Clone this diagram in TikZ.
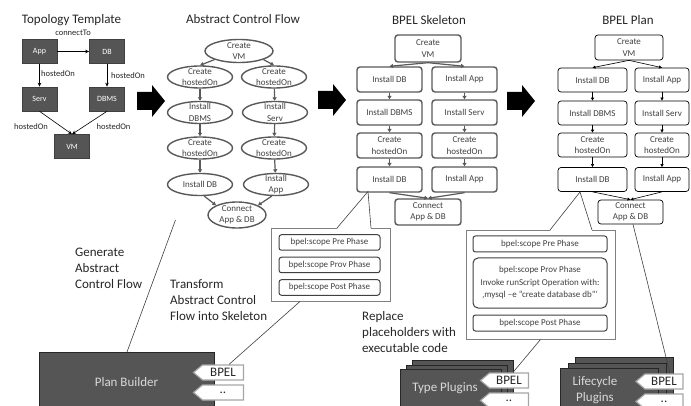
\documentclass[tikz,border=0pt]{standalone}
\usepackage{fontspec}
\setmainfont{Carlito}
\usetikzlibrary{arrows.meta,shapes.geometric,shapes.symbols}
\definecolor{ink}{HTML}{262626}
\definecolor{txt}{HTML}{404040}
\definecolor{edge}{HTML}{595959}
\definecolor{darkbox}{HTML}{555555}
\definecolor{tagline}{HTML}{A6A6A6}
\definecolor{lighttxt}{HTML}{D9D9D9}
\begin{document}
\begin{tikzpicture}[x=1pt,y=-1pt,
  title/.style={font=\fontsize{13}{16}\selectfont, text=ink, inner sep=0},
  bigtxt/.style={font=\fontsize{13}{16}\selectfont, text=ink, inner sep=0, align=left, anchor=north west},
  topo/.style={rectangle, fill=darkbox, draw=black!75, line width=0.6, minimum width=35, minimum height=24,
    inner sep=0, text=white, font=\fontsize{8}{10}\selectfont},
  tlab/.style={font=\fontsize{8.5}{10}\selectfont, text=ink, inner sep=0},
  tarrow/.style={-{Stealth[length=4pt,width=3.5pt]}, line width=0.6, black},
  acflab/.style={font=\fontsize{9}{11.5}\selectfont, text=txt, align=center, inner sep=0},
  acf/.style={ellipse, draw=edge, line width=1.4, minimum width=65, minimum height=22, inner sep=0,
    label={[acflab]center:#1}},
  flowarrow/.style={-{Triangle[length=3.5pt,width=4pt]}, draw=edge, line width=1.2},
  skel/.style={rectangle, rounded corners=3, draw=edge, line width=1.4, minimum width=65, minimum height=25,
    inner sep=0, font=\fontsize{9}{11.5}\selectfont, text=txt, align=center},
  plan/.style={rectangle, rounded corners=3, draw=black, line width=0.7, minimum width=69, minimum height=24,
    inner sep=0, font=\fontsize{9}{11.5}\selectfont, text=txt, align=center},
  pright/.style={minimum width=54},
  planarrow/.style={-{Triangle[length=3pt,width=3pt]}, line width=0.6, black},
  callout/.style={rectangle, draw=black!50, line width=0.9, fill=white, inner sep=0},
  pointer/.style={draw=txt, line width=0.6},
  scopebox/.style={rectangle, rounded corners=2.5, draw=txt, line width=1, minimum height=15.5,
    inner sep=0, font=\fontsize{9}{12.5}\selectfont, text=txt, align=center},
  darkblock/.style={rectangle, fill=darkbox, draw=black!85, line width=0.7, inner sep=0, anchor=north west},
  blocktxt/.style={font=\fontsize{13}{16}\selectfont, text=lighttxt, inner sep=0, align=center},
  tag/.style={signal, signal to=west, signal from=nowhere, signal pointer angle=80, fill=white, draw=tagline,
    line width=1.2, minimum width=50, minimum height=15, inner sep=0, font=\fontsize{13}{15}\selectfont, text=ink},
  fatarrow/.pic={\fill[black] (0,-9) -- (15,-9) -- (15,-16) -- (28,0) -- (15,16) -- (15,9) -- (0,9) -- cycle;}
]
\clip (0,0) rectangle (691,406);
\fill[white] (0,0) rectangle (691,406);

% ---------- titles ----------
\node[title] (ttopo) at (71.5,20.5) {Topology Template};
\node[title] (tacf) at (243,19.5) {Abstract Control Flow};
\node[title] (tskel) at (429,20.5) {BPEL Skeleton};
\node[title] (tplan) at (628,20.5) {BPEL Plan};

% ---------- topology template ----------
\node[topo] (app) at (39.5,51.5) {App};
\node[topo] (db) at (107,51.5) {DB};
\node[topo] (serv) at (39.5,99) {Serv};
\node[topo] (dbms) at (107,99) {DBMS};
\node[topo] (vm) at (72,146.5) {VM};
\draw[tarrow] (app) -- (db);
\draw[tarrow] (app) -- (serv);
\draw[tarrow] (db) -- (dbms);
\draw[tarrow] (serv.south) -- (vm.north);
\draw[tarrow] (dbms.south) -- (vm.north);
\node[tlab] (lconn) at (73,33) {connectTo};
\node[tlab, anchor=west] (lh1) at (41,73.5) {hostedOn};
\node[tlab, anchor=west] (lh2) at (111,76) {hostedOn};
\node[tlab] (lh3) at (31,126.5) {hostedOn};
\node[tlab] (lh4) at (113.5,126.5) {hostedOn};

% ---------- transformation arrows ----------
\pic at (137,101) {fatarrow};
\pic at (318,100) {fatarrow};
\pic at (507,101) {fatarrow};

% ---------- abstract control flow ----------
\node[acf={Create\\VM}, minimum width=68, minimum height=23] (cvm) at (239,51) {};
\node[acf={Create\\hostedOn}] (l1) at (200,77) {};
\node[acf={Create\\hostedOn}] (r1) at (274,77) {};
\node[acf={Install\\DBMS}] (l2) at (200,112.5) {};
\node[acf={Install\\Serv}] (r2) at (275,112.5) {};
\node[acf={Create\\hostedOn}] (l3) at (200,148) {};
\node[acf={Create\\hostedOn}] (r3) at (274,148) {};
\node[acf={Install DB}] (l4) at (200,184.5) {};
\node[acf={Install\\App}] (r4) at (276,184.5) {};
\node[acf={Connect\\App \& DB}, minimum width=58, minimum height=26] (conn) at (237,215) {};
\draw[flowarrow] (cvm.south west) -- (l1.north);
\draw[flowarrow] (cvm.south east) -- (r1.north);
\draw[flowarrow] (l1) -- (l2);
\draw[flowarrow] (l2) -- (l3);
\draw[flowarrow] (l3) -- (l4);
\draw[flowarrow] (r1) -- (r2);
\draw[flowarrow] (r2) -- (r3);
\draw[flowarrow] (r3) -- (r4);
\draw[flowarrow] (l4.-70) -- (conn.north west);
\draw[flowarrow] (r4.-110) -- (conn.north east);

% ---------- BPEL skeleton ----------
\node[skel, minimum width=66, minimum height=27] (scvm) at (428,48.5) {Create\\VM};
\node[skel] (sl1) at (389.5,79.5) {Install DB};
\node[skel] (sr1) at (464.5,79.5) {Install App};
\node[skel] (sl2) at (389.5,112.5) {Install DBMS};
\node[skel] (sr2) at (464.5,112.5) {Install Serv};
\node[skel] (sl3) at (389.5,145.5) {Create\\hostedOn};
\node[skel] (sr3) at (464.5,145.5) {Create\\hostedOn};
\node[skel] (sl4) at (389.5,179.5) {Install DB};
\node[skel] (sr4) at (464.5,179.5) {Install App};
\node[skel, minimum width=66, minimum height=26] (sconn) at (428,212) {Connect\\App \& DB};
\draw[flowarrow] (scvm.south) -- (sl1.north);
\draw[flowarrow] (scvm.south) -- (sr1.north);
\draw[flowarrow] (sl1) -- (sl2);
\draw[flowarrow] (sl2) -- (sl3);
\draw[flowarrow] (sl3) -- (sl4);
\draw[flowarrow] (sr1) -- (sr2);
\draw[flowarrow] (sr2) -- (sr3);
\draw[flowarrow] (sr3) -- (sr4);
\draw[flowarrow] (sl4.south) -- (sconn.north);
\draw[flowarrow] (sr4.south) -- (sconn.north);

% ---------- BPEL plan ----------
\node[plan, minimum width=68, minimum height=25] (pcvm) at (629,47.5) {Create\\VM};
\node[plan] (pl1) at (592.5,80) {Install DB};
\node[plan, pright] (pr1) at (662,80) {Install App};
\node[plan] (pl2) at (592.5,113) {Install DBMS};
\node[plan, pright] (pr2) at (662,113) {Install Serv};
\node[plan] (pl3) at (592.5,145) {Create\\hostedOn};
\node[plan, pright] (pr3) at (662,145) {Create\\hostedOn};
\node[plan] (pl4) at (592.5,179.5) {Install DB};
\node[plan, pright] (pr4) at (662,179.5) {Install App};
\node[plan, minimum width=65, minimum height=24] (pconn) at (630.5,212) {Connect\\App \& DB};
\draw[planarrow] (pcvm.south) -- (pl1.north);
\draw[planarrow] (pcvm.south) -- (pr1.north);
\draw[planarrow] (pl1) -- (pl2);
\draw[planarrow] (pl2) -- (pl3);
\draw[planarrow] (pl3) -- (pl4);
\draw[planarrow] (pr1) -- (pr2);
\draw[planarrow] (pr2) -- (pr3);
\draw[planarrow] (pr3) -- (pr4);
\draw[planarrow] (pl4.south) -- (pconn.north);
\draw[planarrow] (pr4.south) -- (pconn.north);

% ---------- skeleton callout ----------
\node[callout, minimum width=119, minimum height=73] (cs) at (330.5,264.5) {};
\coordinate (csb1) at (337,228);
\coordinate (csb2) at (371,228);
\coordinate (cspin) at (368,191.5);
\fill[white] ([yshift=-1]csb1) -- (cspin) -- ([yshift=-1]csb2) -- cycle;
\draw[pointer] (csb1) -- (cspin) -- (csb2);
\node[scopebox, minimum width=101] (spre) at (329.5,242.5) {bpel:scope Pre Phase};
\node[scopebox, minimum width=101] (sprov) at (329.5,265) {bpel:scope Prov Phase};
\node[scopebox, minimum width=101] (spost) at (329.5,287.5) {bpel:scope Post Phase};

% ---------- plan callout ----------
\node[callout, minimum width=149, minimum height=109] (cp) at (540.5,284.5) {};
\coordinate (cpb1) at (550,230);
\coordinate (cpb2) at (592,230);
\coordinate (cppin) at (580,192);
\fill[white] ([yshift=-1]cpb1) -- (cppin) -- ([yshift=-1]cpb2) -- cycle;
\draw[pointer] (cpb1) -- (cppin) -- (cpb2);
\node[scopebox, minimum width=134, minimum height=16] (ppre) at (540,244) {bpel:scope Pre Phase};
\node[scopebox, minimum width=134, minimum height=50, rounded corners=5] (pprov) at (540,283)
  {bpel:scope Prov Phase\\Invoke runScript Operation with:\\‚mysql –e “create database db”‘};
\node[scopebox, minimum width=134, minimum height=16] (ppost) at (540,323) {bpel:scope Post Phase};

% ---------- explanatory texts ----------
\node[bigtxt] (gen) at (75,247.5) {Generate\\Abstract\\Control Flow};
\node[bigtxt] (trans) at (170,279) {Transform\\Abstract Control\\Flow into Skeleton};
\node[bigtxt] (repl) at (362,311) {Replace\\placeholders with\\executable code};

% ---------- plan builder ----------
\node[darkblock, minimum width=175, minimum height=60] (pb) at (39,352) {};
\node[blocktxt] (pbt) at (126.5,382) {Plan Builder};

% ---------- type plugins ----------
\node[darkblock, minimum width=101, minimum height=70] (tp3) at (412,360) {};
\node[darkblock, minimum width=101, minimum height=70] (tp2) at (406,364.5) {};
\node[darkblock, minimum width=101, minimum height=70] (tp1) at (400,369) {};
\node[blocktxt] (tpt) at (445,388) {Type Plugins};

% ---------- lifecycle plugins ----------
\node[darkblock, minimum width=98, minimum height=70] (lp3) at (575,357) {};
\node[darkblock, minimum width=98, minimum height=70] (lp2) at (567.5,362.5) {};
\node[darkblock, minimum width=98, minimum height=70] (lp1) at (560,368) {};
\node[blocktxt] (lpt) at (595,390) {Lifecycle\\Plugins};

% ---------- language tags ----------
\node[tag] (pbbpel) at (223,372.5) {BPEL};
\node[tag] (pbmore) at (223,392.5) {..};
\node[tag, minimum width=48] (tpbpel) at (509,380.5) {BPEL};
\node[tag, minimum width=48] (tpmore) at (509,400.5) {..};
\node[tag, minimum width=47] (lpbpel) at (664,381.5) {BPEL};
\node[tag, minimum width=47] (lpmore) at (664,401.5) {..};

% ---------- pointers between the stages ----------
\coordinate (acfpin) at (175.5,220);
\draw[pointer] (acfpin) -- (pb.north -| 127,0);
\draw[pointer] ([xshift=-30.5]cs.south) -- ([xshift=6]pbbpel.north);
\draw[pointer] (cp.south) -- ([xshift=4]tpbpel.north);
\draw[pointer] ([xshift=2.5]pconn.south) -- ([xshift=6]lpbpel.north);
\end{tikzpicture}
\end{document}
